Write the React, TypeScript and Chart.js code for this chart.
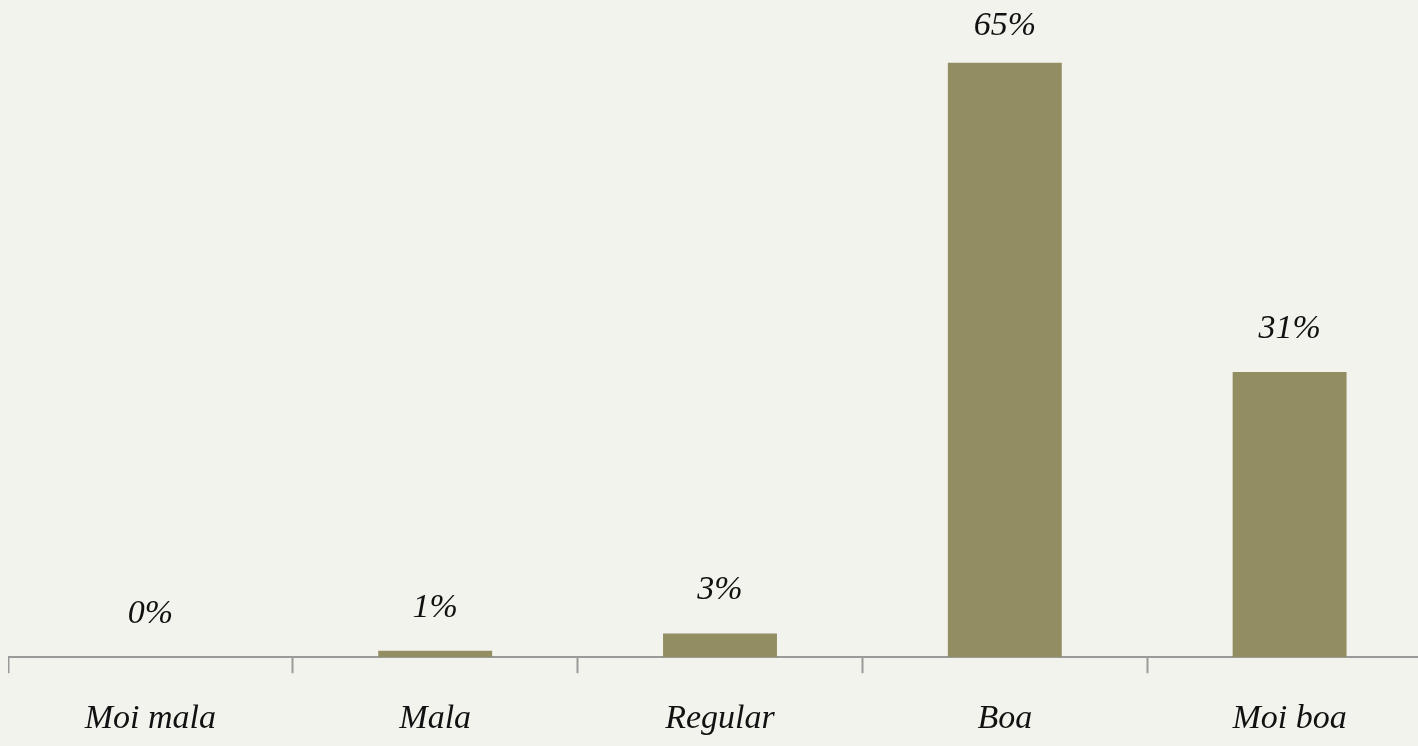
import React, { useEffect, useRef } from "react";
import { Chart, registerables } from "chart.js";

Chart.register(...registerables);

const categories = ["Moi mala", "Mala", "Regular", "Boa", "Moi boa"];
const percentValues = [0, 0.7, 2.6, 65.0, 31.2];
const valueLabels = ["0%", "1%", "3%", "65%", "31%"];

const BG = "#f3f3ee";
const BAR = "#928e62";
const FONT = "'Liberation Serif', serif";

const labelPlugin = {
  id: "valueLabels",
  afterDatasetsDraw(chart: any) {
    const ctx = chart.ctx;
    const meta = chart.getDatasetMeta(0);
    ctx.save();
    ctx.font = `italic 34px ${FONT}`;
    ctx.fillStyle = "#111";
    ctx.textAlign = "center";
    ctx.textBaseline = "middle";
    meta.data.forEach((el: any, i: number) => {
      const y = Math.max(26, el.y - 43);
      ctx.fillText(valueLabels[i], el.x, y);
    });
    ctx.restore();
  },
};

export default function App() {
  const ref = useRef<HTMLCanvasElement | null>(null);
  useEffect(() => {
    if (!ref.current) return;
    const chart = new Chart(ref.current, {
      type: "bar",
      data: {
        labels: categories,
        datasets: [
          {
            data: percentValues,
            backgroundColor: BAR,
            borderWidth: 0,
            categoryPercentage: 0.8,
            barPercentage: 0.5,
          },
        ],
      },
      options: {
        animation: false,
        responsive: false,
        maintainAspectRatio: false,
        layout: { padding: { top: 8, bottom: 0, left: 0, right: 0 } },
        plugins: {
          legend: { display: false },
          tooltip: { enabled: false },
        },
        scales: {
          y: {
            display: false,
            min: 0,
            max: 71,
          },
          x: {
            offset: true,
            grid: {
              display: true,
              drawOnChartArea: false,
              drawTicks: true,
              tickLength: 16,
              tickWidth: 2,
              tickColor: "#9a9a9a",
              offset: true,
            },
            border: { display: true, color: "#9a9a9a", width: 2 },
            ticks: {
              padding: 25,
              color: "#111",
              font: { family: FONT, size: 34, style: "italic" },
              maxRotation: 0,
              autoSkip: false,
            },
          },
        },
      },
      plugins: [labelPlugin],
    });
    return () => chart.destroy();
  }, []);

  return (
    <div
      style={{
        position: "fixed",
        left: 0,
        top: 0,
        width: "100vw",
        height: "100vh",
        overflow: "hidden",
        background: BG,
      }}
    >
      <canvas
        ref={ref}
        width={1424}
        height={764}
        style={{ position: "absolute", left: 8, top: 0, width: 1424, height: 764 }}
      />
    </div>
  );
}
